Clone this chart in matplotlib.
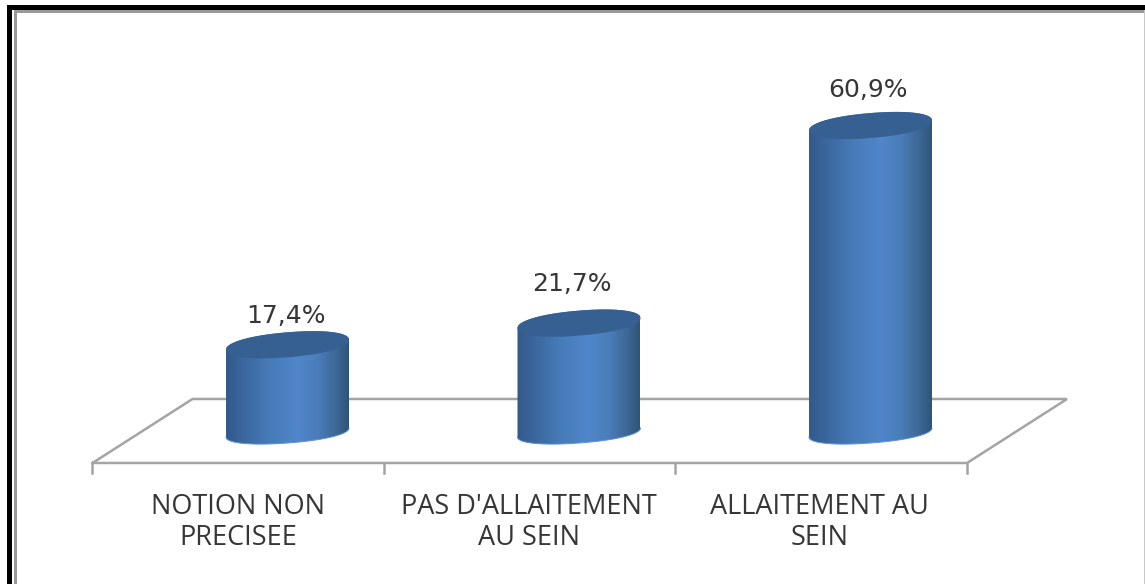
import numpy as np
import matplotlib
matplotlib.use("Agg")
import matplotlib.pyplot as plt
from matplotlib.colors import LinearSegmentedColormap
from matplotlib.patches import Polygon, Rectangle

categories = ["NOTION NON\nPRECISEE", "PAS D'ALLAITEMENT\nAU SEIN", "ALLAITEMENT AU\nSEIN"]
values = [17.4, 21.7, 60.9]
value_labels = ["17,4%", "21,7%", "60,9%"]

W, H = 1145, 584
PX_PER_CAT = 291.5
PX_PER_VAL = 5.04
X0_PX, Y0_PX = 287.5, 432.5

fig = plt.figure(figsize=(W / 100, H / 100), dpi=100, facecolor="white")
ax = fig.add_axes([0, 0, 1, 1])
xlim = ((0 - X0_PX) / PX_PER_CAT, (W - X0_PX) / PX_PER_CAT)
ylim = ((Y0_PX - H) / PX_PER_VAL, (Y0_PX - 0) / PX_PER_VAL)
ax.axis("off")

def dx(px):
    return px / PX_PER_CAT
def dy(px):
    return px / PX_PER_VAL

# picture frame
def frame(x, y, w, h, c):
    ax.add_patch(Rectangle((x / W, 1 - (y + h) / H), w / W, h / H, transform=ax.transAxes,
                           fc=c, ec="none", zorder=1))
frame(7, 5, W - 7, 5, "black")
frame(7, 5, 5, H - 5, "black")
frame(14, 12, 3, H - 12, "#9a9a9a")
frame(14, 10, W - 14, 2.5, "#9a9a9a")
frame(1143.5, 10, 1.5, H - 10, "#c8c8c8")

# 3-D floor: the front edge sits left of the cylinders because of the perspective
GRID = "#a4a4a4"
n = len(categories)
shift = dx(-195) + 0.5
left, right = -0.5 + shift, n - 0.5 + shift
front_y, back_y = dy(-30.5), dy(33.5)
depth = dx(100)
ax.plot([left, right, right + depth, left + depth, left],
        [front_y, front_y, back_y, back_y, front_y], color=GRID, lw=1.8, zorder=2,
        solid_joinstyle="miter")
for e in np.arange(n + 1) - 0.5 + shift:
    ax.plot([e, e], [front_y, front_y - dy(10)], color=GRID, lw=1.8, zorder=2)

# cylinders
cmap = LinearSegmentedColormap.from_list("cyl", [
    (0.00, "#34598a"), (0.12, "#3a659b"), (0.35, "#467bb8"), (0.58, "#5087ca"),
    (0.75, "#4a7db9"), (0.90, "#3d6795"), (1.00, "#2f5478")])
grad = np.linspace(0, 1, 256)[None, :]
A = 61.5
t = np.linspace(0, 2 * np.pi, 241)

def ell(cx, cy, ts, b=12.5, s=5.0, p=0.93):
    c = np.sign(np.cos(ts)) * np.abs(np.cos(ts)) ** p
    q = np.sign(np.sin(ts)) * np.abs(np.sin(ts)) ** p
    return (cx + dx(A) * c, cy + dy(s * c + b * q))

for i, v in enumerate(values):
    lt = np.linspace(np.pi, 2 * np.pi, 80)
    bx, by = ell(i, 0, lt, b=10.5, s=4.5)
    tt = np.linspace(0, np.pi, 80)
    tx, ty = ell(i, v, tt)
    poly = Polygon(np.column_stack([np.r_[bx, tx], np.r_[by, ty]]), closed=True,
                   transform=ax.transData, fc="none", ec="none")
    ax.add_patch(poly)
    im = ax.imshow(grad, cmap=cmap, aspect="auto", zorder=3, interpolation="bilinear",
                   extent=(i - dx(A), i + dx(A), -dy(20), v + dy(20)))
    im.set_clip_path(poly)
    ax.plot(bx, by, color="#5b93d6", lw=0.7, zorder=3.2)
    ex, ey = ell(i, v, t)
    ax.fill(ex, ey, color="#365f92", lw=0, zorder=4)

ax.set_xlim(xlim)
ax.set_ylim(ylim)

# texts
TEXT = "#363636"
label_off = [(-1, 29), (-7, 39), (-2, 35.5)]
for i, (v, s) in enumerate(zip(values, value_labels)):
    ax.text(i + dx(label_off[i][0]), v + dy(label_off[i][1]), s, ha="center", va="center",
            fontsize=18, family="DejaVu Sans", color=TEXT, zorder=5)
cat_off = [-49, -50, -51]
for i, c in enumerate(categories):
    ax.text(i + dx(cat_off[i]), dy(-90), c, ha="center", va="center", fontsize=19.5,
            family="Open Sans", color=TEXT, linespacing=1.15, zorder=5)

fig.savefig("out.png", dpi=100, facecolor="white")
